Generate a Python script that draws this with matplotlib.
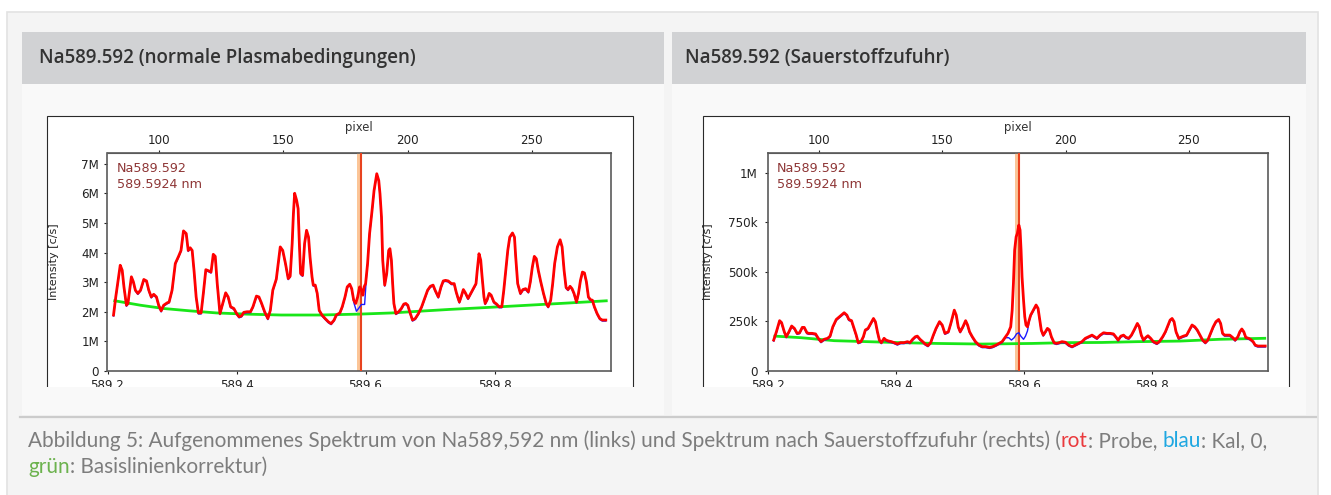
import numpy as np
import matplotlib.pyplot as plt
from matplotlib.patches import Rectangle
from matplotlib.transforms import offset_copy

# ── Data ────────────────────────────────────────────────────────────
# detector pixel -> wavelength: nm = NM0 + (pix - PIX0) * NM_PER_PIX
PIX0, NM0, NM_PER_PIX = 100.0, 589.2805, 0.003846
NA_LINE = 589.5924
BAND = (589.5866, 589.5914)

# left chart, normal plasma (intensity in M c/s)
left_red_pix = [81.5, 82.4, 84.2, 85.0, 85.7, 86.7, 87.3, 88.7, 89.5, 90.3, 91.3, 92.4, 93.7, 94.8, 95.7,
                96.7, 97.7, 98.8, 99.7, 100.7, 101.7, 103.1, 103.9, 105.1, 106.4, 107.7, 108.7, 109.7,
                110.8, 111.6, 112.4, 113.2, 114.0, 114.8, 115.7, 116.8, 117.7, 118.7, 119.9, 120.8,
                121.7, 122.5, 123.3, 124.4, 125.5, 126.7, 127.7, 128.7, 130.0, 131.1, 132.1, 133.1,
                134.0, 135.3, 136.7, 137.7, 139.1, 140.1, 141.1, 142.4, 143.7, 144.7, 145.7, 147.1,
                148.7, 149.7, 150.8, 151.9, 152.7, 153.5, 154.0, 154.5, 155.3, 155.9, 156.4, 156.9,
                157.7, 158.5, 159.3, 160.1, 160.7, 161.5, 162.0, 162.8, 163.6, 164.4, 165.5, 166.8,
                168.1, 169.2, 170.4, 171.3, 172.7, 173.7, 174.8, 175.7, 176.7, 177.5, 178.3, 179.1,
                179.9, 180.7, 181.5, 182.0, 182.5, 183.1, 183.9, 184.7, 185.7, 186.5, 187.6, 188.4,
                188.9, 189.5, 190.0, 190.8, 191.6, 192.4, 192.9, 193.5, 194.0, 194.5, 195.3, 196.4,
                197.5, 198.5, 199.3, 200.1, 200.9, 202.0, 203.1, 204.4, 205.7, 207.1, 208.1, 209.2,
                210.3, 211.1, 212.4, 213.5, 214.4, 215.3, 216.4, 217.7, 218.8, 219.6, 220.4, 220.9,
                221.7, 222.5, 223.3, 224.4, 225.5, 226.5, 227.6, 228.1, 228.8, 229.5, 230.0, 230.8,
                231.3, 232.1, 232.9, 233.7, 234.8, 235.9, 236.9, 238.0, 238.8, 239.6, 240.4, 241.2,
                242.3, 243.1, 243.6, 244.4, 245.5, 246.5, 247.6, 248.7, 249.5, 250.3, 251.1, 251.9,
                252.7, 253.7, 254.8, 255.9, 256.7, 257.7, 258.5, 259.3, 260.4, 261.5, 262.3, 263.1,
                263.9, 264.7, 265.5, 266.3, 267.1, 268.1, 268.9, 269.7, 270.5, 271.3, 272.1, 272.9,
                273.7, 274.5, 275.3, 276.4, 277.5, 278.5, 279.9]
left_red_int = [1.89, 2.50, 3.57, 3.40, 2.84, 2.22, 2.28, 3.18, 3.01, 2.73, 2.62, 2.73, 3.09, 3.04, 2.73,
                2.50, 2.59, 2.50, 2.22, 2.03, 2.22, 2.30, 2.33, 2.73, 3.63, 3.87, 4.07, 4.73,
                4.64, 4.07, 4.16, 4.07, 3.34, 2.50, 1.96, 1.96, 2.62, 3.42, 3.38, 3.34,
                3.94, 3.87, 2.95, 1.94, 2.28, 2.64, 2.50, 2.17, 2.11, 1.94, 1.83, 1.86,
                1.98, 2.00, 2.00, 2.17, 2.53, 2.50, 2.30, 2.00, 1.77, 2.05, 2.73, 3.10,
                4.19, 4.07, 3.63, 3.12, 3.20, 4.30, 5.31, 6.00, 5.76, 5.48, 4.30, 3.29,
                3.23, 4.30, 4.75, 4.52, 3.85, 3.18, 2.90, 2.90, 2.62, 2.05, 1.89, 1.77,
                1.66, 1.60, 1.72, 1.89, 1.96, 2.17, 2.50, 2.84, 2.93, 2.78, 2.39, 2.28,
                2.50, 2.84, 2.73, 2.56, 2.84, 2.95, 3.63, 4.64, 5.42, 6.09, 6.66, 6.43,
                5.98, 5.20, 3.74, 2.90, 3.29, 4.07, 4.13, 3.74, 2.95, 2.28, 1.94, 2.00,
                2.11, 2.26, 2.28, 2.22, 2.00, 1.72, 1.77, 1.94, 2.17, 2.50, 2.73, 2.86,
                2.90, 2.73, 2.50, 2.84, 3.04, 3.06, 3.04, 2.95, 2.95, 2.67, 2.45, 2.33,
                2.53, 2.75, 2.64, 2.45, 2.62, 2.78, 2.95, 3.40, 3.96, 3.74, 3.23, 2.50,
                2.28, 2.41, 2.62, 2.56, 2.33, 2.26, 2.17, 2.17, 2.73, 3.40, 4.07, 4.52,
                4.66, 4.52, 3.85, 2.95, 2.62, 2.75, 2.78, 2.67, 3.01, 3.51, 3.87, 3.79,
                3.40, 3.01, 2.62, 2.28, 2.17, 2.39, 2.95, 3.63, 4.19, 4.43, 4.19, 3.40,
                2.82, 2.75, 2.86, 2.78, 2.62, 2.33, 2.62, 3.06, 3.34, 3.31, 3.01, 2.50,
                2.41, 2.39, 2.17, 1.94, 1.77, 1.72, 1.72]
# where the blue (Kal, 0) trace leaves the red one
left_blue_pix = [177.5, 178.4, 179.4, 180.4, 181.4, 182.7, 183.5]
left_blue_int = [2.78, 2.33, 2.05, 2.16, 2.28, 2.28, 3.29]
left_base_pix = [82.0, 92.4, 101.7, 112.4, 123.1, 135.1, 149.1, 164.4, 180.4, 193.7, 207.1, 217.1,
                 231.1, 248.4, 265.7, 280.1]
left_base_int = [2.37, 2.22, 2.11, 2.03, 1.96, 1.92, 1.89, 1.89, 1.92, 1.96, 2.03, 2.08,
                 2.14, 2.22, 2.30, 2.37]

# right chart, oxygen added (intensity in k c/s)
right_red_pix = [81.5, 82.6, 83.9, 84.7, 85.8, 86.6, 87.7, 88.8, 89.9, 91.0, 92.0, 93.1, 93.9, 95.0,
                 95.8, 97.1, 98.5, 99.6, 100.7, 102.0, 103.4, 104.4, 105.5, 106.9, 108.2, 110.1,
                 111.2, 112.0, 113.1, 113.9, 115.0, 115.8, 116.9, 117.9, 118.7, 119.8, 120.9, 122.0,
                 122.8, 123.6, 124.4, 125.2, 126.3, 127.1, 128.2, 129.3, 130.4, 131.7, 133.0, 134.4,
                 135.8, 136.8, 137.9, 139.0, 139.8, 140.9, 142.0, 143.0, 144.1, 145.2, 146.3, 147.4,
                 148.8, 149.9, 151.0, 152.4, 153.4, 154.8, 155.6, 156.4, 157.2, 158.3, 159.4, 160.2,
                 161.0, 162.1, 163.4, 164.8, 166.1, 167.5, 169.1, 170.4, 171.8, 172.9, 174.2, 175.6,
                 176.6, 177.7, 178.3, 178.8, 179.3, 179.9, 180.4, 181.0, 181.5, 181.9, 182.3, 182.9,
                 183.4, 183.9, 184.5, 185.0, 185.8, 186.9, 188.0, 188.8, 189.3, 190.1, 190.9, 191.8,
                 192.6, 193.4, 194.2, 195.3, 196.3, 197.4, 198.5, 199.9, 201.2, 202.6, 203.9, 205.3,
                 206.6, 208.0, 209.3, 210.7, 211.7, 212.7, 214.0, 215.4, 216.7, 218.1, 219.4, 220.5,
                 221.3, 222.4, 223.5, 224.5, 225.6, 226.7, 227.8, 229.1, 229.9, 230.7, 231.6, 232.6,
                 233.4, 234.5, 235.6, 237.0, 238.0, 239.4, 240.5, 241.6, 242.4, 243.2, 244.0, 244.8,
                 245.9, 246.7, 247.8, 249.1, 250.2, 251.3, 252.4, 253.4, 254.5, 255.6, 256.7, 257.7,
                 258.8, 259.9, 261.0, 262.1, 262.9, 263.7, 264.5, 265.6, 266.6, 267.7, 268.8, 269.9,
                 270.7, 271.5, 272.3, 273.1, 274.2, 275.0, 276.1, 276.9, 278.0, 279.6, 281.0]
right_red_int = [156, 198, 254, 244, 198, 173, 198, 227, 215, 190, 193, 220, 220, 193,
                 190, 190, 187, 165, 148, 160, 165, 176, 223, 260, 274, 294,
                 282, 260, 254, 223, 181, 143, 148, 173, 207, 215, 240, 265,
                 248, 198, 156, 143, 165, 156, 151, 148, 143, 136, 143, 143,
                 148, 143, 160, 173, 176, 160, 148, 136, 128, 143, 181, 215,
                 249, 232, 190, 198, 240, 307, 282, 223, 198, 223, 254, 232,
                 198, 173, 148, 131, 123, 123, 119, 123, 131, 139, 148, 173,
                 190, 223, 307, 442, 610, 677, 694, 736, 711, 610, 475, 358,
                 274, 232, 223, 248, 282, 307, 333, 316, 274, 207, 181, 198,
                 215, 207, 173, 143, 139, 143, 148, 145, 131, 123, 131, 139,
                 148, 165, 173, 181, 173, 165, 181, 193, 190, 190, 187, 170,
                 156, 176, 181, 170, 165, 181, 207, 240, 223, 181, 156, 170,
                 178, 165, 148, 139, 148, 173, 198, 232, 257, 265, 249, 198,
                 165, 170, 176, 181, 207, 232, 223, 207, 181, 156, 143, 156,
                 190, 223, 249, 260, 240, 190, 181, 181, 181, 170, 156, 173,
                 198, 212, 198, 170, 165, 160, 148, 131, 126, 126, 126]
right_blue_pix = [175.6, 176.9, 178.0, 179.1, 180.1, 181.0, 181.8, 182.9, 183.7, 184.5, 185.3]
right_blue_int = [173, 173, 161, 173, 193, 198, 181, 165, 181, 207, 261]
right_base_pix = [82.0, 92.6, 106.1, 119.6, 133.1, 147.9, 166.1, 186.4, 199.9, 214.7, 228.9, 246.4,
                  262.6, 280.8]
right_base_int = [176, 168, 153, 148, 143, 139, 136, 139, 143, 144, 148, 151, 160, 165]

left_yticks = [0, 1e6, 2e6, 3e6, 4e6, 5e6, 6e6, 7e6]
left_ylabels = ["0", "1M", "2M", "3M", "4M", "5M", "6M", "7M"]
right_yticks = [0, 250e3, 500e3, 750e3, 1e6]
right_ylabels = ["0", "250k", "500k", "750k", "1M"]
nm_ticks = [589.2, 589.4, 589.6, 589.8]
pix_ticks = [100, 150, 200, 250]

titles = ["Na589.592 (normale Plasmabedingungen)", "Na589.592 (Sauerstoffzufuhr)"]
GREY = "#7d7d7d"
# caption pieces: (text, colour)
caption1 = [("Abbildung 5: Aufgenommenes Spektrum von Na589,592 nm (links) und Spektrum nach "
             "Sauerstoffzufuhr (rechts) (", GREY),
            ("rot", "#ea3a3d"), (": Probe, ", GREY), ("blau", "#1ea7e1"), (": Kal, 0,", GREY)]
caption2 = [("grün", "#6cb24e"), (": Basislinienkorrektur)", GREY)]


def pix2nm(p):
    return NM0 + (np.asarray(p, dtype=float) - PIX0) * NM_PER_PIX


def nm2pix(nm):
    return PIX0 + (np.asarray(nm, dtype=float) - NM0) / NM_PER_PIX


def splice(pix, val, bpix, bval):
    # blue trace = red trace with its own stretch around the Na line
    pix, val = np.asarray(pix), np.asarray(val)
    keep = (pix < bpix[0]) | (pix > bpix[-1])
    p = np.concatenate([pix[keep], bpix])
    v = np.concatenate([val[keep], bval])
    order = np.argsort(p)
    return p[order], v[order]


# ── Page layout (pixel coordinates) ─────────────────────────────────
W, H = 1331, 495
fig = plt.figure(figsize=(W / 100, H / 100), dpi=100)
fig.patch.set_facecolor("white")

page = fig.add_axes([0, 0, 1, 1], zorder=-5)
page.set_xlim(0, W)
page.set_ylim(H, 0)
page.axis("off")

HEADER = "#d1d2d4"
BODY = "#f9f9f9"
page.add_patch(Rectangle((7, 12), 1311, 500, fc="#f4f4f4", ec="#e2e2e2", lw=1.2))
panels = [(22, 664), (672, 1306)]
boxes = [(47, 633), (703, 1289)]
for (x0, x1), (bx0, bx1), title in zip(panels, boxes, titles):
    page.add_patch(Rectangle((x0, 84), x1 - x0, 331, fc=BODY, ec="none"))
    page.add_patch(Rectangle((x0, 32), x1 - x0, 52, fc=HEADER, ec="none"))
    page.add_patch(Rectangle((bx0, 116), bx1 - bx0, 290, fc="white", ec="#2a2a2a", lw=0.8))
    # the chart image is cut off at the bottom of the panel
    fig.add_artist(Rectangle((x0 / W, 1 - 415 / H), (x1 - x0) / W, 28 / H,
                             transform=fig.transFigure, fc=BODY, ec="none", zorder=20))
page.plot([20, 1316], [416.5, 416.5], color="#cccccc", lw=1.6)

renderer = fig.canvas.get_renderer()


def text_w(s, **kw):
    t = page.text(0, 0, s, **kw)
    w = t.get_window_extent(renderer).width
    t.remove()
    return w


# headers
head_kw = dict(family="Open Sans", weight="semibold", color="#333333")
head_size = 12.0 * 377 / text_w(titles[0], fontsize=12.0, **head_kw)
page.text(39, 58, titles[0], fontsize=head_size, va="center", ha="left", **head_kw)
page.text(685, 58, titles[1], fontsize=head_size, va="center", ha="left", **head_kw)

# caption, one text per colour run, placed side by side
cap_kw = dict(family="Lato")
line1 = "".join(s for s, _ in caption1)
cap_kw["fontsize"] = 12.0 * 1237 / text_w(line1, fontsize=12.0, **cap_kw)
for pieces, y in [(caption1, 441), (caption2, 467)]:
    full = "".join(s for s, _ in pieces)
    end = 0
    for s, color in pieces:
        end += len(s)
        x = 28 + text_w(full[:end], **cap_kw) - text_w(s, **cap_kw)
        page.text(x, y, s, color=color, va="center", ha="left", **cap_kw)


# ── Charts ──────────────────────────────────────────────────────────
def chart(x0, x1, y0, y1, red, blue, base, scale, yticks, ylabels, ymax, ylab_x, ypad):
    ax = fig.add_axes([x0 / W, 1 - y1 / H, (x1 - x0) / W, (y1 - y0) / H])
    ax.set_facecolor("white")
    ax.set_xlim(589.2036, 589.9805)
    ax.set_ylim(0, ymax)

    ax.axvspan(*BAND, color="#fbc597", lw=0, zorder=2)
    ax.axvline(NA_LINE, color="#e8431f", lw=1.5, zorder=3)

    ax.plot(pix2nm(base[0]), np.asarray(base[1]) * scale, color="#19e619", lw=2.0, zorder=2.5)
    bp, bv = splice(red[0], red[1], blue[0], blue[1])
    shift = offset_copy(ax.transData, fig=fig, x=0, y=-1, units="dots")
    ax.plot(pix2nm(bp), bv * scale, color="#1a1aff", lw=1.0, zorder=4, transform=shift)
    ax.plot(pix2nm(red[0]), np.asarray(red[1]) * scale, color="#ff0000", lw=2.0, zorder=5)

    ax.set_xticks(nm_ticks)
    ax.set_xticklabels([f"{v:.1f}" for v in nm_ticks])
    ax.set_yticks(yticks)
    ax.set_yticklabels(ylabels)
    ax.tick_params(axis="x", direction="out", length=2.5, width=0.8, pad=3,
                   labelsize=8.6, colors="#222222")
    ax.tick_params(axis="y", direction="out", length=2.5, width=0.8, pad=ypad,
                   labelsize=8.6, colors="#222222")
    for lbl in ax.get_yticklabels():
        lbl.set_va("center_baseline")
    for s in ax.spines.values():
        s.set_color("#5a5a5a")
        s.set_linewidth(1.2)

    sec = ax.secondary_xaxis("top", functions=(nm2pix, pix2nm))
    sec.set_xticks(pix_ticks)
    sec.tick_params(direction="out", length=2.5, width=0.8, pad=1.5,
                    labelsize=8.6, colors="#222222")
    sec.spines["top"].set_color("#5a5a5a")
    ax.text(0.5, 1.115, "pixel", transform=ax.transAxes, ha="center", va="center",
            fontsize=8.4, color="#333333")

    ax.set_ylabel("Intensity [c/s]", fontsize=8.0, color="#222222")
    ax.yaxis.set_label_coords(ylab_x, 0.5)

    ax.text(0.018, 0.930, "Na589.592", transform=ax.transAxes, ha="left", va="center",
            fontsize=9.2, color="#8e3636", zorder=6)
    ax.text(0.018, 0.856, "589.5924 nm", transform=ax.transAxes, ha="left", va="center",
            fontsize=9.2, color="#8e3636", zorder=6)
    return ax


chart(107.5, 611.0, 153, 371,
      (left_red_pix, left_red_int), (left_blue_pix, left_blue_int), (left_base_pix, left_base_int),
      1e6, left_yticks, left_ylabels, 7.36e6, -0.097, 3.5)
chart(767.7, 1267.7, 153, 371,
      (right_red_pix, right_red_int), (right_blue_pix, right_blue_int), (right_base_pix, right_base_int),
      1e3, right_yticks, right_ylabels, 1.1e6, -0.109, 5.0)

fig.savefig("out.png", dpi=100, facecolor=fig.get_facecolor())
